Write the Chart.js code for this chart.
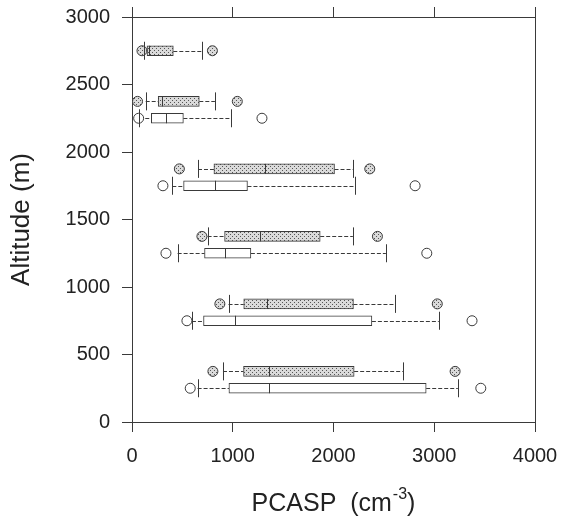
<!DOCTYPE html>
<html><head><meta charset="utf-8">
<script src="https://cdn.jsdelivr.net/npm/chart.js@4.4.0/dist/chart.umd.min.js"></script>
<style>html,body{margin:0;padding:0;background:#fff}#wrap{width:566px;height:519px}</style>
</head><body><div id="wrap"><canvas id="c" width="566" height="519"></canvas></div>
<script>
// ---- tick labels ----
const xTickValues = [0, 1000, 2000, 3000, 4000];
const yTickValues = [0, 500, 1000, 1500, 2000, 2500, 3000];
const xTitleMain = 'PCASP  (cm';
const xTitleSup = '-3';
const xTitleEnd = ')';
const yTitle = 'Altitude (m)';

// ---- open (unfilled) boxes ----
const openAltitude    = [250, 750, 1250, 1750, 2250];
const openLowOutlier  = [578, 545, 337, 307, 66];
const openLowWhisker  = [651, 595, 453, 400, 72];
const openQ1          = [962, 710, 720, 512, 192];
const openMedian      = [1355, 1025, 926, 825, 335];
const openQ3          = [2920, 2381, 1180, 1146, 510];
const openHighWhisker = [3234, 3045, 2520, 2215, 985];
const openHighOutlier = [3462, 3375, 2926, 2810, 1290];

// ---- dotted (shaded) boxes ----
const dotAltitude    = [375, 875, 1375, 1875, 2375, 2750];
const dotLowOutlier  = [803, 872, 694, 470, 55, 99];
const dotLowWhisker  = [903, 958, 750, 655, 136, 117];
const dotQ1          = [1107, 1109, 919, 813, 260, 149];
const dotMedian      = [1355, 1339, 1273, 1316, 294, 172];
const dotQ3          = [2205, 2198, 1868, 2010, 668, 410];
const dotHighWhisker = [2688, 2612, 2192, 2192, 823, 697];
const dotHighOutlier = [3207, 3030, 2436, 2360, 1045, 798];

const FONT = '"Liberation Sans", Arial, sans-serif';
const INK = '#222';
const LINE = '#3a3a3a';

function dotPattern() {
  const c = document.createElement('canvas');
  c.width = 4; c.height = 4;
  const g = c.getContext('2d');
  g.fillStyle = '#dadada'; g.fillRect(0, 0, 4, 4);
  g.fillStyle = '#555555';
  g.fillRect(0, 0, 1, 1); g.fillRect(2, 2, 1, 1);
  return g.createPattern(c, 'repeat');
}
const dotFill = dotPattern();

const groups = [
  {alt: openAltitude, lo: openLowWhisker, q1: openQ1, med: openMedian, q3: openQ3, hi: openHighWhisker},
  {alt: dotAltitude, lo: dotLowWhisker, q1: dotQ1, med: dotMedian, q3: dotQ3, hi: dotHighWhisker}
];

const boxParts = {
  id: 'boxParts',
  beforeDatasetsDraw(chart) {
    const {ctx, scales: {x, y}} = chart;
    ctx.save();
    ctx.strokeStyle = LINE; ctx.lineWidth = 1; ctx.setLineDash([4, 2]);
    groups.forEach(g => g.alt.forEach((a, i) => {
      const py = Math.round(y.getPixelForValue(a)) + 0.5;
      ctx.beginPath();
      ctx.moveTo(x.getPixelForValue(g.lo[i]), py); ctx.lineTo(x.getPixelForValue(g.q1[i]), py);
      ctx.moveTo(x.getPixelForValue(g.q3[i]), py); ctx.lineTo(x.getPixelForValue(g.hi[i]), py);
      ctx.stroke();
    }));
    ctx.restore();
  },
  afterDatasetsDraw(chart) {
    const {ctx, scales: {x, y}} = chart;
    ctx.save();
    ctx.strokeStyle = LINE; ctx.lineWidth = 1; ctx.setLineDash([]);
    groups.forEach(g => g.alt.forEach((a, i) => {
      const py = y.getPixelForValue(a);
      const cap = v => { const px = Math.round(x.getPixelForValue(v)) + 0.5; ctx.moveTo(px, py - 9); ctx.lineTo(px, py + 9); };
      const mid = v => { const px = Math.round(x.getPixelForValue(v)) + 0.5; ctx.moveTo(px, py - 5); ctx.lineTo(px, py + 5); };
      ctx.beginPath();
      cap(g.lo[i]); cap(g.hi[i]); mid(g.med[i]);
      ctx.stroke();
    }));
    ctx.restore();
  },
  afterDraw(chart) {
    const {ctx, chartArea} = chart;
    ctx.save();
    ctx.fillStyle = INK;
    ctx.textBaseline = 'alphabetic';
    const big = '25px ' + FONT, small = '16px ' + FONT;
    ctx.font = big; const w1 = ctx.measureText(xTitleMain).width; const w3 = ctx.measureText(xTitleEnd).width;
    ctx.font = small; const w2 = ctx.measureText(xTitleSup).width;
    const total = w1 + w2 + w3 + 1;
    let sx = (chartArea.left + chartArea.right) / 2 - total / 2;
    const base = chart.height - 8;
    ctx.font = big; ctx.fillText(xTitleMain, sx, base); sx += w1 + 1;
    ctx.font = small; ctx.fillText(xTitleSup, sx, base - 12); sx += w2;
    ctx.font = big; ctx.fillText(xTitleEnd, sx, base);
    ctx.restore();
  }
};

const boxDataset = (alt, q1, q3, fill) => ({
  type: 'bar', indexAxis: 'y', grouped: false,
  data: alt.map((a, i) => ({x: [q1[i], q3[i]], y: a})),
  backgroundColor: fill, borderColor: LINE, borderWidth: 1, borderSkipped: false,
  barThickness: 10, xAxisID: 'x', yAxisID: 'y', order: 2
});
const outlierDataset = (alt, lo, hi, fill) => ({
  type: 'scatter',
  data: alt.flatMap((a, i) => [{x: lo[i], y: a}, {x: hi[i], y: a}]),
  backgroundColor: fill, borderColor: LINE, borderWidth: 1,
  pointRadius: 5, pointStyle: 'circle', clip: false, xAxisID: 'x', yAxisID: 'y', order: 1
});

const noPad = s => { s.paddingTop = 0; s.paddingBottom = 0; s.paddingLeft = 0; s.paddingRight = 0; };
const axisCommon = {
  offset: false,
  grid: {drawOnChartArea: false, tickLength: 10, color: LINE, lineWidth: 1, offset: false},
  border: {display: true, color: LINE, width: 1, dash: [4, 2]}
};
const plainLabel = v => String(v);

new Chart(document.getElementById('c'), {
  type: 'bar',
  data: {
    datasets: [
      boxDataset(openAltitude, openQ1, openQ3, '#ffffff'),
      boxDataset(dotAltitude, dotQ1, dotQ3, dotFill),
      outlierDataset(openAltitude, openLowOutlier, openHighOutlier, '#ffffff'),
      outlierDataset(dotAltitude, dotLowOutlier, dotHighOutlier, dotFill)
    ]
  },
  options: {
    responsive: false, animation: false, events: [],
    layout: {padding: 0},
    plugins: {legend: {display: false}, tooltip: {enabled: false}},
    scales: {
      x: {
        type: 'linear', position: 'bottom', min: 0, max: 4000,
        afterBuildTicks: s => { s.ticks = xTickValues.map(v => ({value: v})); },
        ticks: {font: {family: FONT, size: 20}, color: INK, padding: 12, maxRotation: 0, callback: plainLabel},
        ...axisCommon,
        afterFit: s => { s.height = 97; noPad(s); }
      },
      x2: {
        type: 'linear', position: 'top', min: 0, max: 4000,
        afterBuildTicks: s => { s.ticks = xTickValues.map(v => ({value: v})); },
        ticks: {display: false},
        ...axisCommon,
        afterFit: s => { s.height = 17; noPad(s); }
      },
      y: {
        type: 'linear', position: 'left', min: 0, max: 3000,
        afterBuildTicks: s => { s.ticks = yTickValues.map(v => ({value: v})); },
        ticks: {font: {family: FONT, size: 20}, color: INK, padding: 12, callback: plainLabel},
        title: {display: true, text: yTitle, font: {family: FONT, size: 26}, color: INK, padding: {top: 6, bottom: 0}},
        ...axisCommon,
        afterFit: s => { s.width = 132; noPad(s); }
      },
      y2: {
        type: 'linear', position: 'right', min: 0, max: 3000, offset: false,
        ticks: {display: false},
        grid: {display: false, offset: false},
        border: {display: true, color: LINE, width: 1, dash: [4, 2]},
        afterFit: s => { s.width = 31; noPad(s); }
      }
    }
  },
  plugins: [boxParts]
});
</script>
</body></html>
